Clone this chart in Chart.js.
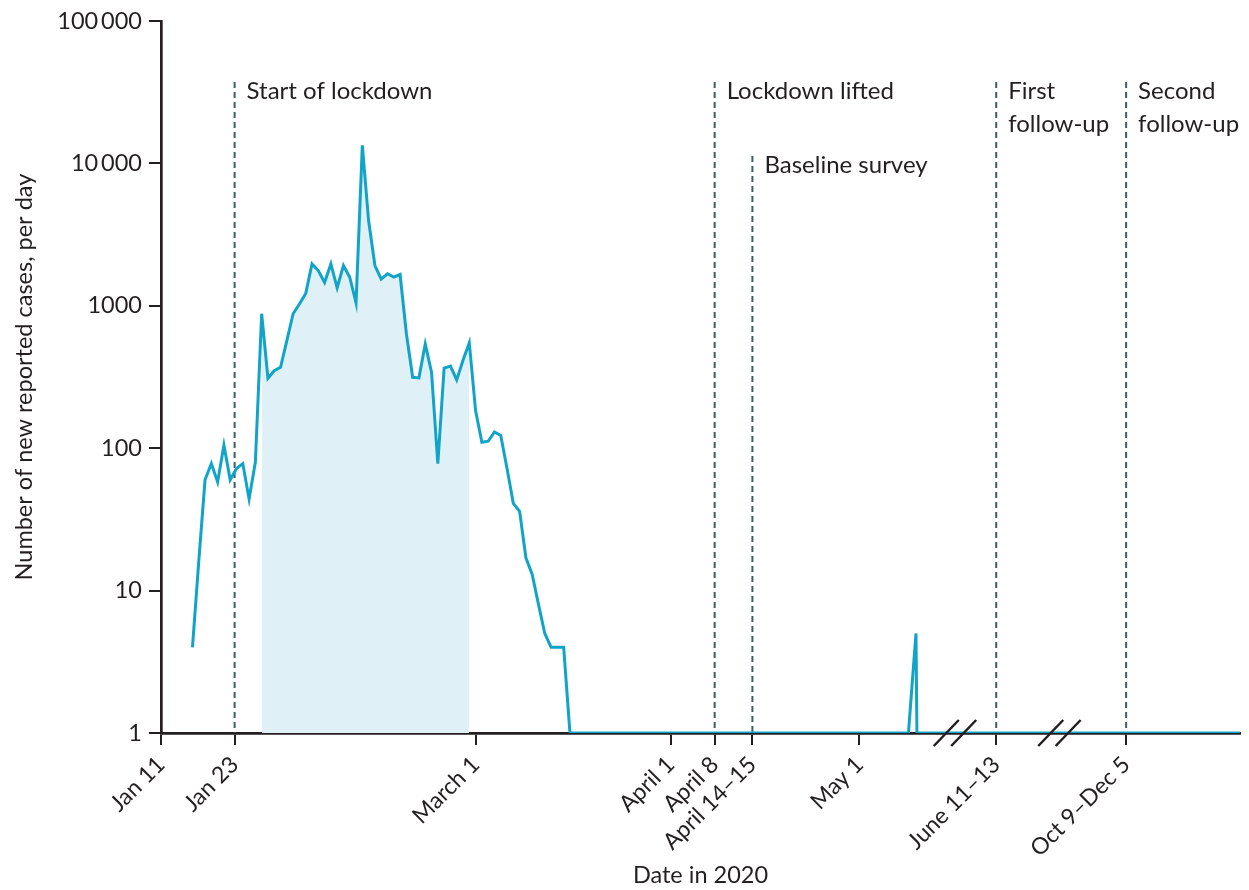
<!DOCTYPE html>
<html><head><meta charset="utf-8">
<script src="https://cdn.jsdelivr.net/npm/chart.js@4/dist/chart.umd.min.js"></script>
<style>html,body{margin:0;padding:0;background:#fff}</style>
</head><body>
<canvas id="c" width="1249" height="890"></canvas>
<script>
// ---- data ----
// x values are day-of-year in 2020 (Jan 11 = 11); after the axis breaks, x is an axis position
const firstDay = 16; // Jan 16
const dailyCases = [4,16,60,78,58,105,60,72,78,44,80,880,310,350,370,570,880,1030,1220,1970,1770,1460,1970,1340,1920,1590,1050,13400,3960,1920,1540,1680,1590,1660,640,315,312,540,342,78,365,377,302,415,550,184,110,112,130,123,72,41,36,17,13,8,5,4,4,4,1];
const tailX = [129.8, 131, 131.15, 182.5];
const tailCases = [1, 5, 1, 1];
const shadeFromDay = 27, shadeToDay = 60;
const xTickPositions = [11, 22.7, 61, 92, 99, 105, 122, 143.75, 164.4];
const xTickLabels = ['Jan 11','Jan 23','March 1','April 1','April 8','April 14–15','May 1','June 11–13','Oct 9–Dec 5'];
const yTickValues = [1, 10, 100, 1000, 10000, 100000];
const yTickLabels = ['1','10','100','1000','10\u2009000','100\u2009000'];
const markerX = [22.7, 99, 105, 143.75, 164.4];
const markerTop = [37400, 37400, 11300, 37400, 37400];
const markerText = [['Start of lockdown'],['Lockdown lifted'],['Baseline survey'],['First','follow-up'],['Second','follow-up']];
const axisBreaks = [137.2, 153.8];

// ---- build ----
const mainPoints = dailyCases.map((v,i)=>({x:firstDay+i, y:v}));
tailX.forEach((x,i)=>mainPoints.push({x:x, y:tailCases[i]}));
const shadePoints = dailyCases.map((v,i)=>({x:firstDay+i, y:v})).filter(p=>p.x>=shadeFromDay && p.x<=shadeToDay);

const INK = '#231f20';
const FONT = 'Lato';

const overlay = {
  id:'overlay',
  beforeDatasetsDraw(chart){
    const {ctx, scales:{x,y}} = chart;
    ctx.save();
    ctx.strokeStyle = '#3d5d6d'; ctx.lineWidth = 2; ctx.setLineDash([6,4]);
    markerX.forEach((d,i)=>{
      const px = x.getPixelForValue(d);
      ctx.beginPath();
      ctx.moveTo(px, y.getPixelForValue(markerTop[i]));
      ctx.lineTo(px, y.getPixelForValue(1));
      ctx.stroke();
    });
    ctx.restore();
  },
  afterDatasetsDraw(chart){
    const {ctx, scales:{x,y}} = chart;
    const by = y.getPixelForValue(1);
    ctx.save();
    ctx.strokeStyle = INK; ctx.lineWidth = 2.5;
    axisBreaks.forEach(b=>{
      const cx = x.getPixelForValue(b);
      [-8.7, 8.7].forEach(o=>{
        ctx.beginPath();
        ctx.moveTo(cx+o-12.5, by+13);
        ctx.lineTo(cx+o+12.5, by-13);
        ctx.stroke();
      });
    });
    ctx.restore();
  },
  afterDraw(chart){
    const {ctx, scales:{x,y}} = chart;
    ctx.save();
    ctx.fillStyle = INK; ctx.font = '24px ' + FONT; ctx.textBaseline = 'middle'; ctx.textAlign = 'left';
    markerX.forEach((d,i)=>{
      const px = x.getPixelForValue(d);
      const top = y.getPixelForValue(markerTop[i]);
      markerText[i].forEach((t,j)=>ctx.fillText(t, px+12, top+9+j*33));
    });
    ctx.restore();
  }
};

new Chart(document.getElementById('c'), {
  type:'line',
  data:{datasets:[
    {data:mainPoints, borderColor:'#12a4c8', borderWidth:3, pointRadius:0, fill:false, tension:0},
    {data:shadePoints, borderWidth:0, borderColor:'rgba(0,0,0,0)', backgroundColor:'#dff0f7', pointRadius:0, fill:'start', tension:0}
  ]},
  options:{
    responsive:false, animation:false, devicePixelRatio:1,
    layout:{padding:{top:20, right:9, bottom:0, left:0}},
    plugins:{legend:{display:false}, tooltip:{enabled:false}},
    scales:{
      x:{type:'linear', min:11, max:182.5,
        afterBuildTicks:s=>{ s.ticks = xTickPositions.map(v=>({value:v})); },
        ticks:{callback:(v,i)=>xTickLabels[i], autoSkip:false, maxRotation:45, minRotation:45, font:{family:FONT,size:23}, color:INK, padding:6},
        grid:{drawOnChartArea:false, drawTicks:true, tickLength:12, color:INK, lineWidth:2},
        border:{display:true, color:INK, width:2.7},
        title:{display:true, text:'Date in 2020', font:{family:FONT,size:23.5}, color:INK, padding:{top:-3,bottom:0}},
        afterFit:s=>{ s.height = 157; }
      },
      y:{type:'logarithmic', min:1, max:100000,
        afterBuildTicks:s=>{ s.ticks = yTickValues.map(v=>({value:v})); },
        ticks:{callback:(v,i)=>yTickLabels[i], autoSkip:false, font:{family:FONT,size:23.5}, color:INK, padding:7},
        grid:{drawOnChartArea:false, drawTicks:true, tickLength:12, color:INK, lineWidth:2},
        border:{display:true, color:INK, width:2.7},
        title:{display:true, text:'Number of new reported cases, per day', font:{family:FONT,size:23.5}, color:INK, padding:{top:10,bottom:0}},
        afterFit:s=>{ s.width = 161; }
      }
    }
  },
  plugins:[overlay]
});
</script>
</body></html>
